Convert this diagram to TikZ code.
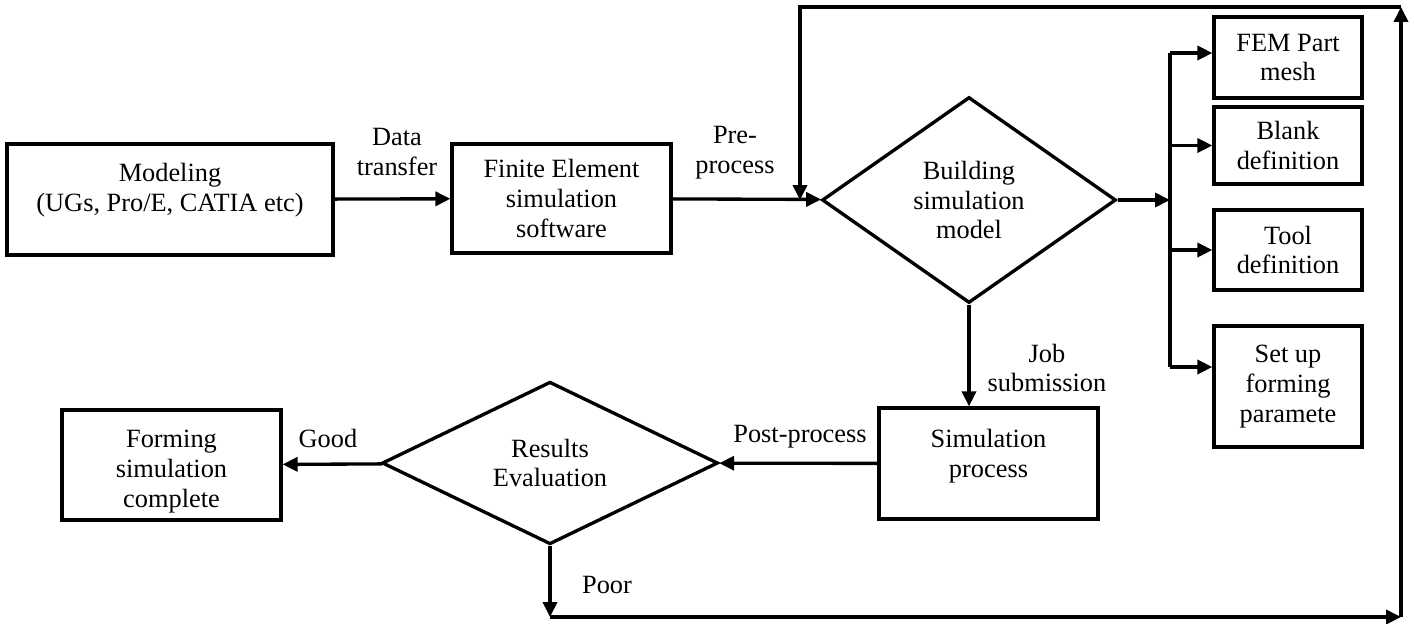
\documentclass[tikz,border=0pt]{standalone}
\usepackage{fontspec}
\setmainfont{Liberation Serif}
\usepackage{tikz}
\usetikzlibrary{shapes.geometric, arrows.meta, positioning, calc}

\begin{document}
\begin{tikzpicture}[x=0.02cm, y=-0.02cm,
    font=\fontsize{15}{17}\selectfont,
    every node/.style={align=center},
    box/.style={draw, line width=1.9pt, inner sep=2pt},
    decide/.style={draw, diamond, line width=1.9pt, inner sep=0pt},
    arr/.style={line width=1.9pt, -{Triangle[length=8.5pt, width=8pt]}},
    wire/.style={line width=1.9pt}]
    \useasboundingbox (0,0) rectangle (1414,623);
    \node[box, minimum width=6.52cm, minimum height=2.22cm, text depth=14pt] (model) at (170,199.5) {Modeling\\(UGs, Pro/E, CATIA etc)};
    \node[box, minimum width=4.38cm, minimum height=2.18cm] (fesw) at (561.5,198.5) {Finite Element\\simulation\\software};
    \node[decide, minimum width=5.88cm, minimum height=4.12cm] (build) at (969,200) {Building\\simulation\\model};
    \node[box, minimum width=2.96cm, minimum height=1.62cm] (fem) at (1288,57.5) {FEM Part\\mesh};
    \node[box, minimum width=2.96cm, minimum height=1.54cm] (blank) at (1288,145.5) {Blank\\definition};
    \node[box, minimum width=2.96cm, minimum height=1.6cm] (tool) at (1288,250) {Tool\\definition};
    \node[box, minimum width=2.96cm, minimum height=2.42cm] (setup) at (1288,386.5) {Set up\\forming\\paramete};
    \node[box, minimum width=4.38cm, minimum height=2.22cm, text depth=12pt] (simproc) at (988.5,463.5) {Simulation\\process};
    \node[decide, minimum width=6.72cm, minimum height=3.04cm] (results) at (550,463) {Results\\Evaluation};
    \node[box, minimum width=4.38cm, minimum height=2.2cm, text height=51pt] (forming) at (171.5,465) {Forming\\simulation\\complete};

    \node (datatr) at (397,152) {Data\\transfer};
    \node (preproc) at (735,153) {Pre-\\process};
    \node (jobsub) at (1047,368) {Job\\submission};
    \node (postproc) at (800,437) {Post-process};
    \node (good) at (328,438) {Good};
    \node (poor) at (607,585) {Poor};

    \coordinate (bus) at (1170,200);
    \coordinate (femin) at ($(fem.west)+(0,-4.5)$);
    \coordinate (setupin) at ($(setup.west)+(0,-19.5)$);
    \coordinate (pc) at (550,617);
    \coordinate (brc) at (1401,617);
    \coordinate (trc) at (1401,7);
    \coordinate (tlc) at (800,7);
    \coordinate (fbin) at (800,200);

    \draw[arr] (model) -- (fesw);
    \draw[arr] (fesw) -- (build);
    \draw[arr] (build) -- (bus);
    \draw[wire] (femin -| bus) -- (setupin -| bus);
    \draw[arr] (femin -| bus) -- (femin);
    \draw[arr] (blank.west -| bus) -- (blank.west);
    \draw[arr] (tool.west -| bus) -- (tool.west);
    \draw[arr] (setupin -| bus) -- (setupin);
    \draw[arr] (build.south) -- (build.south |- simproc.north);
    \draw[arr] (simproc) -- (results);
    \draw[arr] (results) -- (forming);
    \draw[arr] (results.south) -- (pc);
    \draw[arr] (pc) -- (brc);
    \draw[arr] (brc) -- (trc);
    \draw[arr] (trc) -- (tlc) -- (fbin);
\end{tikzpicture}
\end{document}
